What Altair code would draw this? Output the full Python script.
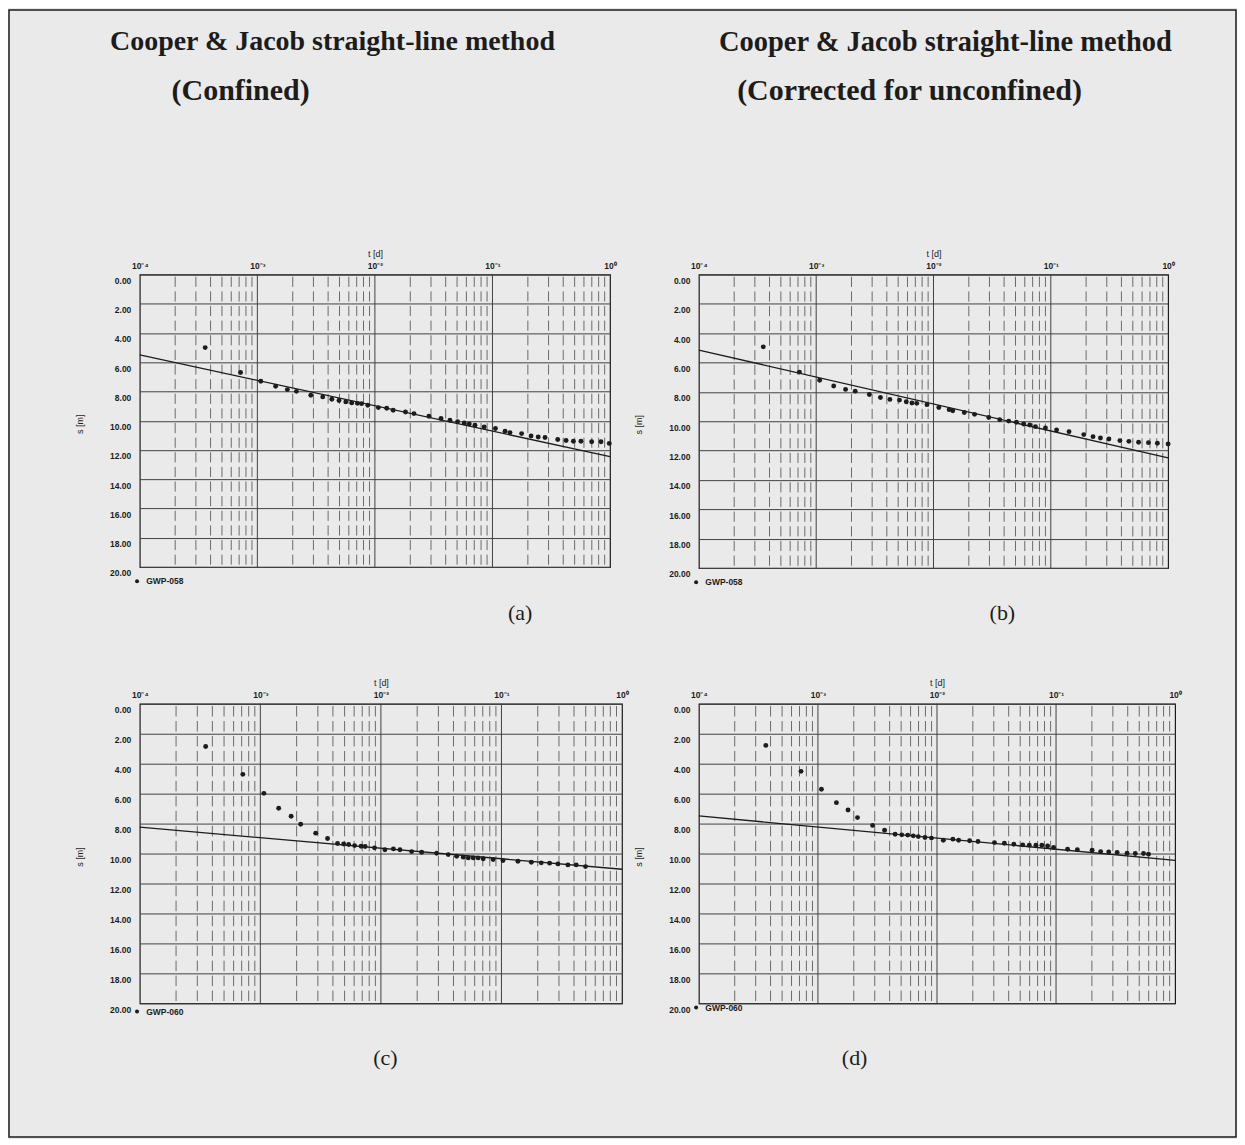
import json
import altair as alt
import pandas as pd

# ---------------- data ----------------
# Panel (a): GWP-058, confined
a_t = [3.6e-4, 7.2e-4, 1.07e-3, 1.43e-3, 1.8e-3, 2.15e-3, 2.85e-3, 3.6e-3, 4.3e-3, 4.95e-3,
       5.65e-3, 6.35e-3, 7.1e-3, 7.7e-3, 8.7e-3, 1.07e-2, 1.26e-2, 1.43e-2, 1.82e-2, 2.15e-2,
       2.88e-2, 3.65e-2, 4.35e-2, 5.05e-2, 5.75e-2, 6.35e-2, 7.1e-2, 8.5e-2, 0.106, 0.128,
       0.141, 0.177, 0.213, 0.245, 0.28, 0.359, 0.423, 0.488, 0.566, 0.698, 0.838, 0.986]
a_s = [5.0, 6.7, 7.3, 7.64, 7.87, 7.99, 8.26, 8.37, 8.53, 8.62,
       8.71, 8.78, 8.81, 8.83, 8.94, 9.10, 9.15, 9.28, 9.40, 9.51,
       9.69, 9.85, 9.97, 10.06, 10.15, 10.22, 10.31, 10.42, 10.53, 10.72,
       10.81, 10.88, 11.04, 11.11, 11.15, 11.28, 11.35, 11.40, 11.40, 11.44, 11.44, 11.55]
a_fit_t = [1e-4, 1.0]
a_fit_s = [5.5, 12.45]

# Panel (b): GWP-058, corrected for unconfined
b_t = [3.54e-4, 7.2e-4, 1.07e-3, 1.41e-3, 1.78e-3, 2.15e-3, 2.84e-3, 3.53e-3, 4.25e-3, 5.13e-3,
       5.86e-3, 6.55e-3, 7.2e-3, 8.8e-3, 1.11e-2, 1.36e-2, 1.46e-2, 1.83e-2, 2.24e-2, 2.96e-2,
       3.67e-2, 4.38e-2, 5.09e-2, 5.87e-2, 6.62e-2, 7.4e-2, 9.0e-2, 0.112, 0.143, 0.191,
       0.229, 0.265, 0.313, 0.388, 0.463, 0.56, 0.68, 0.81, 1.0]
b_s = [4.93, 6.65, 7.21, 7.60, 7.83, 7.95, 8.18, 8.38, 8.51, 8.56,
       8.67, 8.76, 8.78, 8.87, 9.06, 9.21, 9.28, 9.40, 9.53, 9.74,
       9.89, 9.99, 10.07, 10.19, 10.26, 10.37, 10.46, 10.60, 10.71, 10.91,
       11.05, 11.14, 11.21, 11.32, 11.37, 11.43, 11.46, 11.50, 11.55]
b_fit_t = [1e-4, 1.0]
b_fit_s = [5.15, 12.5]

# Panel (c): GWP-060, confined
c_t = [3.52e-4, 7.16e-4, 1.07e-3, 1.42e-3, 1.80e-3, 2.16e-3, 2.88e-3, 3.61e-3, 4.37e-3, 4.91e-3,
       5.40e-3, 6.05e-3, 6.85e-3, 7.40e-3, 8.85e-3, 1.08e-2, 1.27e-2, 1.44e-2, 1.80e-2, 2.18e-2,
       2.90e-2, 3.62e-2, 4.25e-2, 4.82e-2, 5.31e-2, 5.83e-2, 6.41e-2, 7.06e-2, 8.53e-2, 0.103,
       0.137, 0.177, 0.214, 0.251, 0.294, 0.356, 0.417, 0.498]
c_s = [2.85, 4.71, 5.98, 6.98, 7.51, 8.04, 8.64, 9.00, 9.33, 9.36,
       9.40, 9.47, 9.51, 9.53, 9.62, 9.75, 9.69, 9.75, 9.87, 9.91,
       9.98, 10.07, 10.18, 10.24, 10.29, 10.29, 10.29, 10.35, 10.40, 10.47,
       10.51, 10.58, 10.62, 10.64, 10.69, 10.76, 10.76, 10.87]
c_fit_t = [1e-4, 1.0]
c_fit_s = [8.24, 11.05]

# Panel (d): GWP-060, corrected for unconfined
d_t = [3.65e-4, 7.21e-4, 1.07e-3, 1.43e-3, 1.79e-3, 2.15e-3, 2.88e-3, 3.63e-3, 4.45e-3, 5.06e-3,
       5.68e-3, 6.32e-3, 6.97e-3, 7.93e-3, 8.99e-3, 1.13e-2, 1.36e-2, 1.52e-2, 1.88e-2, 2.21e-2,
       3.04e-2, 3.68e-2, 4.42e-2, 5.25e-2, 5.96e-2, 6.78e-2, 7.60e-2, 8.49e-2, 9.53e-2, 0.125,
       0.151, 0.201, 0.237, 0.277, 0.326, 0.395, 0.463, 0.543, 0.598]
d_s = [2.78, 4.51, 5.71, 6.60, 7.09, 7.60, 8.12, 8.44, 8.71, 8.75,
       8.77, 8.82, 8.87, 8.93, 8.97, 9.11, 9.04, 9.11, 9.15, 9.20,
       9.27, 9.31, 9.38, 9.42, 9.44, 9.44, 9.44, 9.49, 9.60, 9.71,
       9.75, 9.78, 9.87, 9.89, 9.93, 9.98, 10.0, 10.0, 10.04]
d_fit_t = [1e-4, 1.0]
d_fit_s = [7.49, 10.45]

# axis ticks / grid positions
tick_values = [1e-4, 1e-3, 1e-2, 1e-1, 1.0]
tick_labels = ["10⁻⁴", "10⁻³", "10⁻²", "10⁻¹", "10⁰"]
inner_decades = [1e-3, 1e-2, 1e-1]
decades = [1e-4, 1e-3, 1e-2, 1e-1]
minor_mult = [2, 3, 4, 5, 6, 7, 8, 9]
s_ticks = [0, 2, 4, 6, 8, 10, 12, 14, 16, 18, 20]

heading_left = ["Cooper & Jacob straight-line method", "(Confined)"]
heading_right = ["Cooper & Jacob straight-line method", "(Corrected for unconfined)"]
captions = ["(a)", "(b)", "(c)", "(d)"]
wells = ["GWP-058", "GWP-058", "GWP-060", "GWP-060"]

# ---------------- styling ----------------
INK = "#1c1c1c"
GRID = "#404040"
MINOR = "#6a6a6a"
BG = "#eaeaea"
SANS = "Liberation Sans"
SERIF = "Liberation Serif"

label_expr = json.dumps(tick_labels, ensure_ascii=False) + "[round(log(datum.value)/LN10)+4]"
minor_t = [m * d for d in decades for m in minor_mult]


def panel(t, s, fit_t, fit_s, well, caption, w, h, cap_x, cap_y, leg_y):
    xs = alt.Scale(type="log", domain=[1e-4, 1.0])
    ys = alt.Scale(domain=[0, 20], reverse=True)
    x_axis = alt.Axis(
        orient="top", values=tick_values, labelExpr=label_expr,
        grid=False, ticks=False, domain=False,
        labelPadding=4, labelFont=SANS, labelFontSize=8.5, labelFontWeight="bold",
        labelColor=INK, labelFlush=False, labelOverlap=False,
        title="t [d]", titleFont=SANS, titleFontSize=9, titleFontWeight="normal",
        titleColor=INK, titleX=w / 2, titleY=-21, titleBaseline="middle",
    )
    y_axis = alt.Axis(
        values=s_ticks, format=".2f", grid=True, gridColor=GRID, gridWidth=1,
        ticks=False, domain=False,
        labelPadding=9, labelFont=SANS, labelFontSize=8.5, labelFontWeight="bold",
        labelColor=INK, labelBaseline="middle", labelOffset=6,
        labelFlush=False, labelOverlap=False,
        title="s [m]", titleFont=SANS, titleFontSize=9, titleFontWeight="normal",
        titleColor=INK, titleX=-60, titleY=h * 0.51, titleAngle=270,
        titleBaseline="middle", titleAlign="center",
    )
    X = alt.X("t:Q", scale=xs, axis=x_axis)
    Y = alt.Y("s:Q", scale=ys, axis=y_axis)

    period = h / 20.0
    gap = 4.5
    minor = alt.Chart(pd.DataFrame({"t": minor_t})).mark_rule(
        color=MINOR, strokeWidth=1, strokeDash=[period - gap, gap],
        strokeDashOffset=period - gap / 2,
    ).encode(x=X, y=alt.value(0), y2=alt.value(h))
    major = alt.Chart(pd.DataFrame({"t": inner_decades})).mark_rule(
        color=GRID, strokeWidth=1
    ).encode(x=X, y=alt.value(0), y2=alt.value(h))
    fit = alt.Chart(pd.DataFrame({"t": fit_t, "s": fit_s})).mark_line(
        color=INK, strokeWidth=1.3
    ).encode(x=X, y=Y)
    pts = alt.Chart(pd.DataFrame({"t": t, "s": s, "well": [well] * len(t)})).mark_circle(
        size=24, opacity=1
    ).encode(
        x=X, y=Y,
        color=alt.Color("well:N", scale=alt.Scale(range=[INK]), legend=alt.Legend(
            orient="none", legendX=-7, legendY=leg_y, title=None,
            labelFont=SANS, labelFontSize=8.5, labelFontWeight="bold", labelColor=INK,
            symbolType="circle", symbolSize=16, padding=0, labelOffset=5,
        )),
    )
    cap = alt.Chart(pd.DataFrame({"c": [caption]})).mark_text(
        font=SERIF, fontSize=22, color=INK
    ).encode(text="c:N", x=alt.value(cap_x), y=alt.value(cap_y))
    return alt.layer(minor, major, fit, pts, cap).properties(
        width=w, height=h, view=alt.ViewBackground(stroke=INK, strokeWidth=1.2)
    )


def text_layer(txt, x, y, size, weight):
    return alt.Chart(pd.DataFrame({"txt": [txt]})).mark_text(
        font=SERIF, fontSize=size, fontWeight=weight, color=INK
    ).encode(text="txt:N", x=alt.value(x), y=alt.value(y))


# grid origin = top-left of the left heading cell (page x 139, y 20)
frame = alt.Chart(pd.DataFrame({"k": [0]})).mark_rect(
    fillOpacity=0, stroke=INK, strokeWidth=1.5
).encode(x=alt.value(-131), x2=alt.value(1098), y=alt.value(-12), y2=alt.value(1117))

head_l = alt.layer(
    frame,
    text_layer(heading_left[0], 193, 20, 28, "bold"),
    text_layer(heading_left[1], 101, 69, 30, "bold"),
).properties(width=470, height=117)

head_r = alt.layer(
    text_layer(heading_right[0], 247, 20, 28.5, "bold"),
    text_layer(heading_right[1], 211, 69, 30, "bold"),
).properties(width=470, height=117)

pa = panel(a_t, a_s, a_fit_t, a_fit_s, wells[0], captions[0], 471, 293, 381, 339, 303)
pb = panel(b_t, b_s, b_fit_t, b_fit_s, wells[1], captions[1], 470, 294, 304, 339, 304)
pc = panel(c_t, c_s, c_fit_t, c_fit_s, wells[2], captions[2], 483, 300, 246, 355, 304)
pd_ = panel(d_t, d_s, d_fit_t, d_fit_s, wells[3], captions[3], 477, 300, 156, 355, 300)

chart = alt.concat(
    head_l, head_r, pa, pb, pc, pd_,
    columns=2, spacing={"row": 136, "column": 77}, bounds="flush", align="each", padding=0,
).resolve_scale(color="independent").configure(background=BG).configure_view(strokeWidth=0)

chart.save("out.html", embed_options={"renderer": "svg", "actions": False})
